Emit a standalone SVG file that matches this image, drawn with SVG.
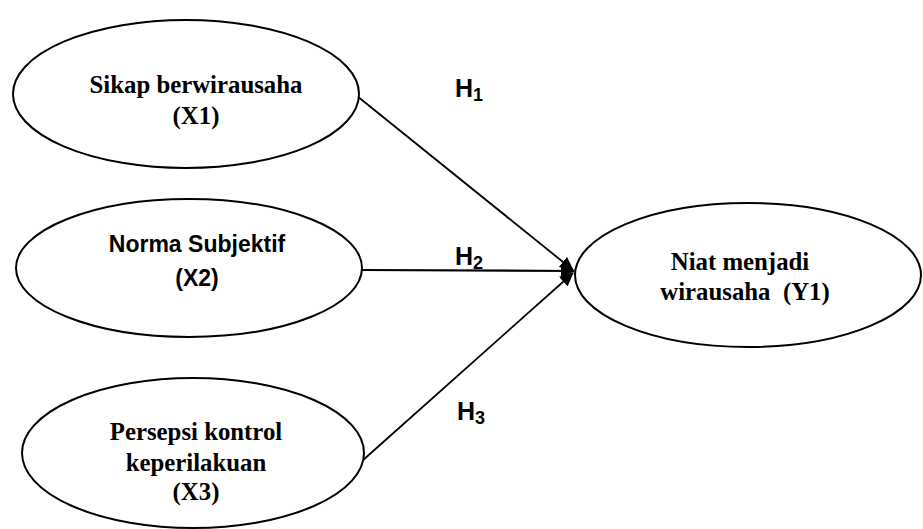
<svg xmlns="http://www.w3.org/2000/svg" width="923" height="529" viewBox="0 0 923 529">
<style>
  .node { fill: #fff; stroke: #000; stroke-width: 2; }
  .serif { font-family: "Liberation Serif", "Times New Roman", serif; font-weight: bold; font-size: 24.8px; fill: #000; text-anchor: middle; }
  .sans { font-family: "Liberation Sans", Arial, sans-serif; font-weight: bold; font-size: 23px; fill: #000; text-anchor: middle; }
  .h { font-family: "Liberation Sans", Arial, sans-serif; font-weight: bold; font-size: 25px; fill: #000; }
  .sub { font-size: 18px; }
  .edge { stroke: #000; stroke-width: 1.8; fill: none; marker-end: url(#arr); }
</style>
<defs>
  <marker id="arr" markerUnits="userSpaceOnUse" markerWidth="14" markerHeight="14" refX="13" refY="7" orient="auto">
    <path d="M0,0.5 L14,7 L0,13.5 z" fill="#000"/>
  </marker>
</defs>
<rect width="923" height="529" fill="#fff"/>
<g id="connectors">
  <line class="edge" x1="357" y1="96" x2="573" y2="270"/>
  <line class="edge" x1="362" y1="270" x2="574" y2="271" style="stroke-width:2.2"/>
  <line class="edge" x1="362" y1="461" x2="573" y2="273"/>
  <text class="h" x="455" y="97">H<tspan class="sub" dy="4">1</tspan></text>
  <text class="h" x="455" y="265">H<tspan class="sub" dy="4">2</tspan></text>
  <text class="h" x="457" y="420">H<tspan class="sub" dy="4">3</tspan></text>
</g>
<g id="x1">
  <ellipse class="node" cx="186" cy="94" rx="173" ry="74"/>
  <text class="serif" x="196" y="93">Sikap berwirausaha</text>
  <text class="serif" x="196" y="124">(X1)</text>
</g>
<g id="x2">
  <ellipse class="node" cx="189" cy="268" rx="173" ry="69"/>
  <text class="sans" x="197" y="252">Norma Subjektif</text>
  <text class="sans" x="197" y="286">(X2)</text>
</g>
<g id="x3">
  <ellipse class="node" cx="193" cy="453" rx="171" ry="75"/>
  <text class="serif" x="196" y="440">Persepsi kontrol</text>
  <text class="serif" x="196" y="471">keperilakuan</text>
  <text class="serif" x="196" y="500">(X3)</text>
</g>
<g id="y1">
  <ellipse class="node" cx="748" cy="275" rx="173" ry="72"/>
  <text class="serif" x="740" y="270">Niat menjadi</text>
  <text class="serif" x="745" y="300" xml:space="preserve">wirausaha  (Y1)</text>
</g>
</svg>
